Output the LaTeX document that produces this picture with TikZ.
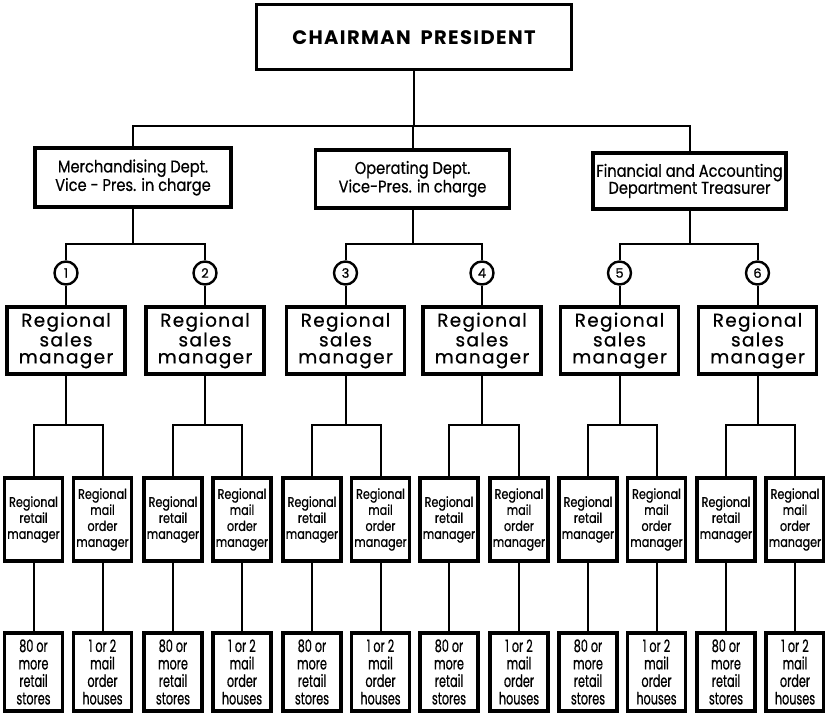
\documentclass[tikz,border=0pt]{standalone}
\usepackage{fontspec}
\setmainfont{Poppins}
\newfontfamily\titlefont{Poppins}[LetterSpace=7]
\newfontfamily\deptfont{Poppins}[FakeStretch=0.86, FakeBold=0.6]
\newfontfamily\salesfont{Poppins}[LetterSpace=7, FakeBold=0.6]
\newfontfamily\mgrfont{Poppins}[FakeStretch=0.8, FakeBold=0.6]
\newfontfamily\unitfont{Poppins}[FakeStretch=0.66, FakeBold=0.6]
\newfontfamily\numfont{Poppins}[FakeBold=0.8]
\begin{document}
\begin{tikzpicture}[x=1pt,y=-1pt,
  orgbox/.style={draw, rectangle, line width=3.4pt, fill=white, inner sep=0pt, align=center},
  titlebox/.style={orgbox, line width=3pt, minimum width=315pt, minimum height=65pt,
    font=\titlefont\bfseries\fontsize{19.5}{21}\selectfont},
  deptbox/.style={orgbox, minimum width=194pt, minimum height=58pt,
    font=\deptfont\fontsize{17}{17}\selectfont},
  salesbox/.style={orgbox, minimum width=118pt, minimum height=67pt,
    font=\salesfont\fontsize{18.5}{17}\selectfont},
  mgrbox/.style={orgbox, minimum width=58pt, minimum height=83pt,
    font=\mgrfont\fontsize{14}{16}\selectfont},
  unitbox/.style={orgbox, minimum width=58pt, minimum height=78pt,
    font=\unitfont\fontsize{17}{17.5}\selectfont},
  numcircle/.style={draw, circle, line width=2.4pt, fill=white, inner sep=0pt,
    minimum size=23pt, font=\numfont\fontsize{13}{13}\selectfont},
  link/.style={line width=2pt}]
\useasboundingbox (0,0) rectangle (825,714);

% levels of the horizontal connector bars
\coordinate (lvl1) at (0,126);
\coordinate (lvl2) at (0,244);
\coordinate (lvl3) at (0,425);

% top of the organisation
\node[titlebox] (top) at (414,37.5) {CHAIRMAN\enspace PRESIDENT};

% departments
\node[deptbox, minimum width=196pt, minimum height=59pt] (merch) at (133,177.5)
  {Merchandising Dept.\\Vice - Pres. in charge};
\node[deptbox] (oper) at (412.5,179) {Operating Dept.\\Vice-Pres. in charge};
\node[deptbox, minimum width=193pt, minimum height=56pt] (fin) at (689.5,181)
  {Financial and Accounting\\Department Treasurer};

\coordinate (tj) at (oper.north |- lvl1);
\draw[link] (top.south) |- (tj);
\draw[link] (merch.north) |- (tj) -| (fin.north);
\draw[link] (oper.north) -- (tj);

% regional sales managers, numbered
\foreach \i/\x in {1/66,2/205,3/345.5,4/482,5/619.5,6/757.5} {
  \node[numcircle] (c\i) at (\x,273) {\i};
  \node[salesbox] (r\i) at (\x,340.5) {Regional\\sales\\manager};
  \draw[link] (c\i) -- (r\i);
}

% departments to their two regions
\foreach \d/\a/\b in {merch/1/2, oper/3/4, fin/5/6} {
  \coordinate (\d j) at (\d.south |- lvl2);
  \draw[link] (\d.south) -- (\d j);
  \draw[link] (c\a.north) |- (\d j) -| (c\b.north);
}

% retail and mail order branches with their units
\foreach \i/\xa/\xb in {1/33.5/102.5, 2/173/242, 3/312/380.5, 4/449/519, 5/588/656.5, 6/726/795} {
  \node[mgrbox] (ret\i) at (\xa,519.5) {Regional\\retail\\manager};
  \node[mgrbox] (mail\i) at (\xb,519.5) {Regional\\mail\\order\\manager};
  \node[unitbox] (st\i) at (\xa,672) {80 or\\more\\retail\\stores};
  \node[unitbox] (mh\i) at (\xb,672) {1 or 2\\mail\\order\\houses};
  \coordinate (rj\i) at (r\i.south |- lvl3);
  \draw[link] (r\i.south) -- (rj\i);
  \draw[link] (ret\i.north) |- (rj\i) -| (mail\i.north);
  \draw[link] (ret\i) -- (st\i);
  \draw[link] (mail\i) -- (mh\i);
}
\end{tikzpicture}
\end{document}
